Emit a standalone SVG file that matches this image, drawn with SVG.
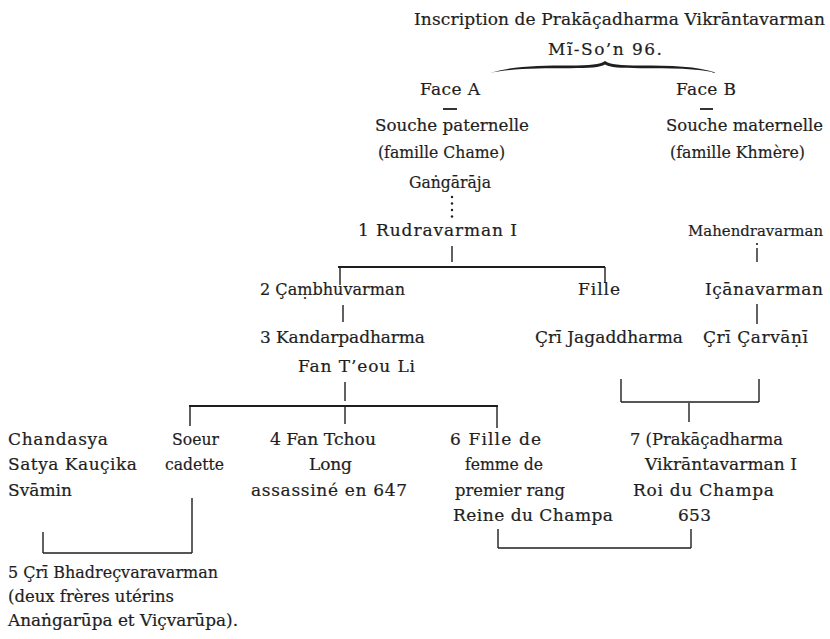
<svg xmlns="http://www.w3.org/2000/svg" width="830" height="639" viewBox="0 0 830 639">
<style>
.t{font-family:"DejaVu Serif","Liberation Serif",serif;font-size:17px;fill:#1e1e1e;stroke:#1e1e1e;stroke-width:0.2}
.sm{font-size:15.5px}
.ln{stroke:#1e1e1e;stroke-width:1.4;fill:none}
.hl{stroke:#1e1e1e;stroke-width:1.8;fill:none}
.dot{fill:#1e1e1e}
</style>
<rect width="830" height="639" fill="#ffffff"/>
<g id="title">
<text class="t" x="414" y="25" textLength="411">Inscription de Prakāçadharma Vikrāntavarman</text>
<text class="t" x="548" y="55" textLength="114">Mĩ-So’n 96.</text>
</g>
<g id="brace">
<path class="dot" d="M490,73 C512,66 540,65.5 570,65.5 C590,65.5 600,64.5 605,61 C610,64.5 620,65.5 640,65.5 C670,65.5 698,66 717,73 C698,68.2 670,68.2 640,68.2 C620,68.2 610,67.5 605,64.6 C600,67.5 590,68.2 570,68.2 C540,68.2 512,68.2 490,73 Z"/>
</g>
<g id="faceA">
<text class="t" x="420" y="95" textLength="60">Face A</text>
<line class="hl" x1="443" y1="109" x2="457" y2="109"/>
<text class="t" x="375" y="131" textLength="154" lengthAdjust="spacingAndGlyphs">Souche paternelle</text>
<text class="t" x="378" y="158" textLength="127" lengthAdjust="spacingAndGlyphs">(famille Chame)</text>
</g>
<g id="faceB">
<text class="t" x="676" y="95" textLength="60">Face B</text>
<line class="hl" x1="700" y1="109" x2="713" y2="109"/>
<text class="t" x="666" y="131" textLength="157" lengthAdjust="spacingAndGlyphs">Souche maternelle</text>
<text class="t" x="670" y="158" textLength="135" lengthAdjust="spacingAndGlyphs">(famille Khmère)</text>
</g>
<g id="gangaraja"><text class="t" x="409" y="188" textLength="82" lengthAdjust="spacingAndGlyphs">Gaṅgārāja</text></g>
<g id="rudravarman"><text class="t" x="358" y="236" textLength="159">1 Rudravarman I</text></g>
<g id="mahendravarman"><text class="t sm" x="688" y="236" textLength="135" lengthAdjust="spacingAndGlyphs">Mahendravarman</text></g>
<g id="cambhuvarman"><text class="t" x="260" y="295" textLength="145" lengthAdjust="spacingAndGlyphs">2 Çaṃbhuvarman</text></g>
<g id="fille"><text class="t" x="578" y="295" textLength="42">Fille</text></g>
<g id="icanavarman"><text class="t" x="705" y="295" textLength="118">Içānavarman</text></g>
<g id="kandarpadharma">
<text class="t" x="260" y="343" textLength="165">3 Kandarpadharma</text>
<text class="t" x="298" y="372" textLength="117">Fan T’eou Li</text>
</g>
<g id="jagaddharma"><text class="t" x="535" y="343" textLength="148">Çrī Jagaddharma</text></g>
<g id="carvani"><text class="t" x="703" y="343" textLength="105">Çrī Çarvāṇī</text></g>
<g id="chandasya">
<text class="t" x="8" y="445" textLength="100">Chandasya</text>
<text class="t" x="8" y="470" textLength="129">Satya Kauçika</text>
<text class="t" x="8" y="496" textLength="64">Svāmin</text>
</g>
<g id="soeur">
<text class="t" x="172" y="445" textLength="47" lengthAdjust="spacingAndGlyphs">Soeur</text>
<text class="t" x="165" y="470" textLength="59" lengthAdjust="spacingAndGlyphs">cadette</text>
</g>
<g id="fantchou">
<text class="t" x="270" y="445" textLength="106" lengthAdjust="spacingAndGlyphs">4 Fan Tchou</text>
<text class="t" x="309" y="470" textLength="43">Long</text>
<text class="t" x="251" y="496" textLength="156">assassiné en 647</text>
</g>
<g id="fille6">
<text class="t" x="450" y="445" textLength="91">6 Fille de</text>
<text class="t" x="465" y="470" textLength="78" lengthAdjust="spacingAndGlyphs">femme de</text>
<text class="t" x="455" y="496" textLength="110" lengthAdjust="spacingAndGlyphs">premier rang</text>
<text class="t" x="453" y="521" textLength="160">Reine du Champa</text>
</g>
<g id="prakacadharma">
<text class="t" x="630" y="445" textLength="153" lengthAdjust="spacingAndGlyphs">7 (Prakāçadharma</text>
<text class="t" x="645" y="470" textLength="152">Vikrāntavarman I</text>
<text class="t" x="633" y="496" textLength="141">Roi du Champa</text>
<text class="t" x="678" y="521" textLength="33">653</text>
</g>
<g id="bhadrecvaravarman">
<text class="t" x="8" y="578" textLength="210" lengthAdjust="spacingAndGlyphs">5 Çrī Bhadreçvaravarman</text>
<text class="t" x="8" y="602" textLength="166" lengthAdjust="spacingAndGlyphs">(deux frères utérins</text>
<text class="t" x="8" y="626" textLength="230" lengthAdjust="spacingAndGlyphs">Anaṅgarūpa et Viçvarūpa).</text>
</g>
<g id="connectors">
<g class="dot">
<circle cx="452" cy="197" r="1.2"/><circle cx="452" cy="203.5" r="1.2"/><circle cx="452" cy="210" r="1.2"/><circle cx="452" cy="216.5" r="1.2"/>
<circle cx="757" cy="244" r="1.1"/>
</g>
<line class="ln" x1="452" y1="246" x2="452" y2="262"/>
<line class="ln" x1="757" y1="248" x2="757" y2="262"/>
<line class="hl" x1="338" y1="267" x2="605" y2="267"/>
<line class="ln" x1="340" y1="267" x2="340" y2="285"/>
<line class="ln" x1="605" y1="267" x2="605" y2="283"/>
<line class="ln" x1="343" y1="305" x2="343" y2="322"/>
<line class="ln" x1="757" y1="304" x2="757" y2="324"/>
<line class="ln" x1="345" y1="382" x2="345" y2="401"/>
<line class="hl" x1="189" y1="406" x2="498" y2="406"/>
<line class="ln" x1="190" y1="406" x2="190" y2="426"/>
<line class="ln" x1="345" y1="406" x2="345" y2="424"/>
<line class="ln" x1="497" y1="406" x2="497" y2="428"/>
<line class="ln" x1="621" y1="379" x2="621" y2="402"/>
<line class="ln" x1="759" y1="379" x2="759" y2="402"/>
<line class="ln" x1="621" y1="402" x2="759" y2="402"/>
<line class="ln" x1="689" y1="403" x2="689" y2="422"/>
<line class="ln" x1="192" y1="498" x2="192" y2="553"/>
<line class="ln" x1="43" y1="532" x2="43" y2="553"/>
<line class="ln" x1="43" y1="553" x2="192" y2="553"/>
<line class="ln" x1="498" y1="529" x2="498" y2="548"/>
<line class="ln" x1="691" y1="529" x2="691" y2="548"/>
<line class="ln" x1="498" y1="548" x2="691" y2="548"/>
</g>
</svg>
